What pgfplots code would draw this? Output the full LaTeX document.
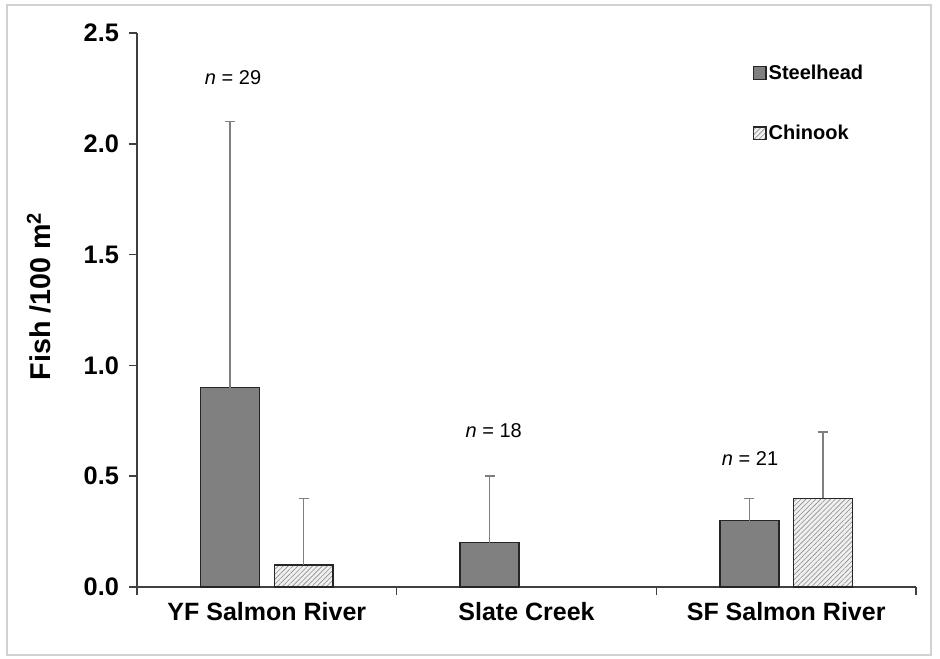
\documentclass[border=0pt]{standalone}
\usepackage{fontspec}
\setmainfont{Liberation Sans}
\usepackage{pgfplots}
\pgfplotsset{compat=1.18}
\usetikzlibrary{patterns.meta}
\definecolor{steel}{HTML}{808080}
\definecolor{axgray}{HTML}{404040}
\definecolor{errgray}{HTML}{7F7F7F}
\begin{document}
\begin{tikzpicture}
\useasboundingbox (0pt,0pt) rectangle (705pt,-493.5pt);
\draw[black!18, line width=1.5pt] (5.25pt,-3.75pt) rectangle (698.25pt,-491.25pt);
\begin{axis}[
  at={(102.75pt,-440.25pt)}, anchor=south west,
  scale only axis, width=584.25pt, height=415.5pt,
  xmin=-0.5, xmax=2.5, ymin=0, ymax=2.5,
  axis lines*=left,
  axis line style={axgray, line width=1.1pt},
  tick style={axgray, line width=1.1pt},
  tick align=outside, major tick length=6pt,
  xtick={-0.5,0.5,1.5,2.5}, xticklabels={},
  extra x ticks={0,1,2},
  extra x tick labels={YF Salmon River, Slate Creek, SF Salmon River},
  extra x tick style={major tick length=0pt, tick label style={font=\bfseries\fontsize{18.75}{22}\selectfont, yshift=-8pt}},
  ytick={0,0.5,1,1.5,2,2.5},
  yticklabel style={/pgf/number format/.cd, fixed, fixed zerofill, precision=1, assume math mode=true, /tikz/.cd, font=\bfseries\fontsize{19}{22}\selectfont, xshift=-4pt},
  ylabel={Fish /100 m\textsuperscript{2}},
  every axis y label/.style={at={(axis description cs:-0.1255,0.525)}, rotate=90, anchor=center, font=\bfseries\fontsize{21.5}{24}\selectfont},
  legend style={at={(axis description cs:0.790,0.947)}, anchor=north west, draw=none, fill=none,
     font=\bfseries\fontsize{15}{18}\selectfont, row sep=30pt, inner sep=0pt,
     nodes={inner sep=1.5pt}},
  legend cell align=left,
  legend image code/.code={\draw[#1, line width=0.9pt] (0pt,-4.8pt) rectangle (9.6pt,4.8pt);},
  error bars/error bar style={errgray, line width=1.1pt},
  error bars/error mark options={errgray, line width=1.1pt, mark size=3.75pt, rotate=90},
]
\addplot[ybar, bar width=0.227, bar shift=0pt, fill=steel, draw=black!85, line width=1.1pt,
  error bars/.cd, y dir=plus, y explicit]
  coordinates {(-0.142,0.9) +- (0,1.2) (0.858,0.2) +- (0,0.3) (1.858,0.3) +- (0,0.1)};
\addlegendentry{Steelhead}
\addplot[ybar, bar width=0.227, bar shift=0pt, fill=black!6, draw=black!85, line width=1.1pt,
  postaction={pattern={Lines[angle=45,distance=2.6pt,line width=0.45pt]}, pattern color=black!45},
  error bars/.cd, y dir=plus, y explicit]
  coordinates {(0.142,0.1) +- (0,0.3) (2.142,0.4) +- (0,0.3)};
\addlegendentry{Chinook}
\node[font=\fontsize{15}{18}\selectfont] at (axis cs:-0.13,2.30) {\textit{n} = 29};
\node[font=\fontsize{15}{18}\selectfont] at (axis cs:0.874,0.708) {\textit{n} = 18};
\node[font=\fontsize{15}{18}\selectfont] at (axis cs:1.861,0.578) {\textit{n} = 21};
\end{axis}
\end{tikzpicture}
\end{document}
